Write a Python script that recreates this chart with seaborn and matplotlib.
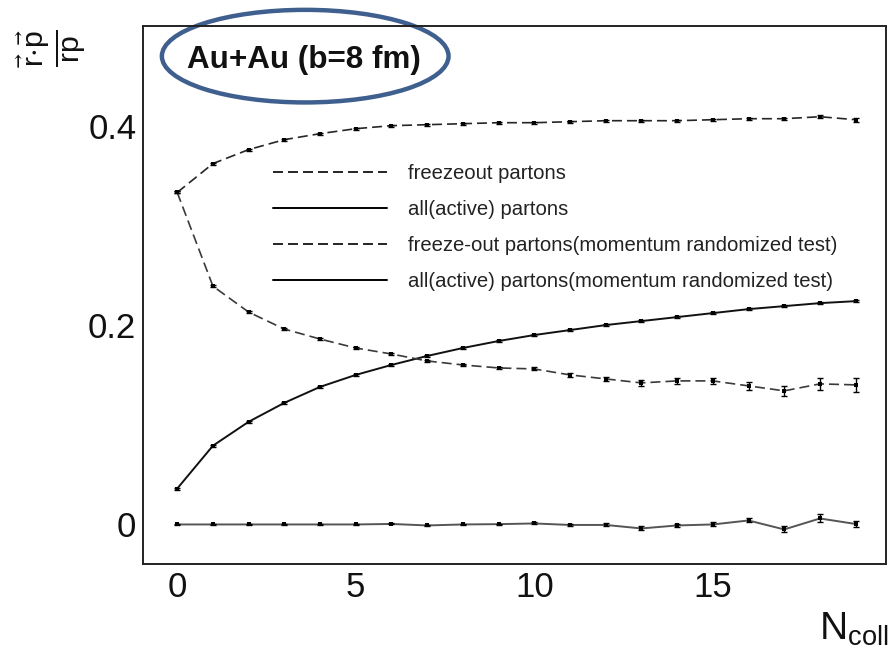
import matplotlib
matplotlib.use("Agg")
import matplotlib.pyplot as plt
import seaborn as sns
import pandas as pd
from matplotlib.lines import Line2D
from matplotlib.patches import Ellipse
from matplotlib.ticker import MultipleLocator, FixedLocator

# Number of binary collisions suffered by a parton
n_coll = list(range(20))

# <r.p/(rp)> for freeze-out partons
freezeout = [0.333, 0.362, 0.376, 0.386, 0.392, 0.397, 0.400, 0.401, 0.402, 0.403,
             0.403, 0.404, 0.405, 0.405, 0.405, 0.406, 0.407, 0.407, 0.409, 0.406]
freezeout_err = [0.001] * 18 + [0.0015, 0.002]

# <r.p/(rp)> for all active partons
active = [0.036, 0.079, 0.103, 0.122, 0.138, 0.150, 0.160, 0.169, 0.177, 0.184,
          0.190, 0.195, 0.200, 0.204, 0.208, 0.212, 0.216, 0.219, 0.222, 0.224]
active_err = [0.001] * 20

# Same quantities with randomized momentum directions
freezeout_rand = [0.333, 0.239, 0.213, 0.196, 0.186, 0.177, 0.171, 0.164, 0.160, 0.157,
                  0.156, 0.150, 0.146, 0.142, 0.144, 0.144, 0.139, 0.134, 0.141, 0.140]
freezeout_rand_err = [0.001, 0.001, 0.001, 0.001, 0.001, 0.001, 0.001, 0.001, 0.001, 0.001,
                      0.0015, 0.002, 0.002, 0.003, 0.003, 0.003, 0.004, 0.005, 0.006, 0.007]

active_rand = [0.0, 0.0, 0.0, 0.0, 0.0, 0.0, 0.0005, -0.001, 0.0, 0.0003,
               0.001, -0.0005, -0.0005, -0.004, -0.001, 0.0, 0.004, -0.005, 0.006, 0.0005]
active_rand_err = [0.0005] * 10 + [0.001, 0.001, 0.0015, 0.002, 0.0015, 0.002, 0.002, 0.003, 0.004, 0.003]

legend_labels = ["freezeout partons",
                 "all(active) partons",
                 "freeze-out partons(momentum randomized test)",
                 "all(active) partons(momentum randomized test)"]

x_ticks = [0, 5, 10, 15]
y_ticks = [0, 0.2, 0.4]
y_tick_labels = ["0", "0.2", "0.4"]

sns.set_theme(style="white")
plt.rcParams["font.family"] = ["Liberation Sans", "DejaVu Sans"]
plt.rcParams["mathtext.fontset"] = "custom"
plt.rcParams["mathtext.rm"] = "Liberation Sans"
plt.rcParams["mathtext.it"] = "Liberation Sans:italic"
plt.rcParams["mathtext.bf"] = "Liberation Sans:bold"
plt.rcParams["mathtext.fallback"] = "stixsans"

fig = plt.figure(figsize=(8.89, 6.5), dpi=100)
ax = fig.add_axes([0.1612, 0.1318, 0.8354, 0.8282])

dash = (0, (6, 3))
series = [
    (freezeout, freezeout_err, "#262626", dash, 1.2),
    (active, active_err, "#111111", "-", 1.4),
    (freezeout_rand, freezeout_rand_err, "#3a3a3a", dash, 1.2),
    (active_rand, active_rand_err, "#555555", "-", 1.4),
]

for (vals, errs, col, ls, lw), lab in zip(series, legend_labels):
    df = pd.DataFrame({"n_coll": n_coll, "value": vals})
    sns.lineplot(data=df, x="n_coll", y="value", ax=ax, color=col, linestyle=ls,
                 linewidth=lw, marker="s", markersize=3.2, markeredgewidth=0,
                 markerfacecolor="black", estimator=None, errorbar=None,
                 sort=False, legend=False)
    ax.errorbar(n_coll, vals, yerr=errs, fmt="none", ecolor="black",
                elinewidth=1.0, capsize=2.5, capthick=1.0)

ax.set_xlim(-0.95, 19.85)
ax.set_ylim(-0.04, 0.50)

ax.xaxis.set_major_locator(FixedLocator(x_ticks))
ax.xaxis.set_minor_locator(MultipleLocator(1))
ax.yaxis.set_major_locator(FixedLocator(y_ticks))
ax.set_yticklabels(y_tick_labels)
ax.yaxis.set_minor_locator(MultipleLocator(0.04))

ax.tick_params(axis="both", which="both", direction="in", colors="#111111",
               labelcolor="#111111", labelsize=25, top=False, right=False)
ax.tick_params(axis="x", which="major", length=12.5, width=1.0, pad=5)
ax.tick_params(axis="x", which="minor", length=3.2, width=1.0)
ax.tick_params(axis="y", which="major", length=17, width=1.0, pad=5)
ax.tick_params(axis="y", which="minor", length=5, width=1.0)
for s in ax.spines.values():
    s.set_color("#222222")
    s.set_linewidth(1.4)

ax.set_xlabel(r"$\mathregular{N_{coll}}$", fontsize=28, color="#111111")
ax.xaxis.set_label_coords(1.004, -0.086)
ax.xaxis.label.set_horizontalalignment("right")
ax.xaxis.label.set_verticalalignment("top")

ax.set_ylabel(r"$\frac{\vec{\mathrm{r}}{\cdot}\vec{\mathrm{p}}}{\mathrm{rp}}$",
              fontsize=31, color="#111111", rotation=90)
ax.yaxis.set_label_coords(-0.172, 0.996)
ax.yaxis.label.set_verticalalignment("top")
ax.yaxis.label.set_horizontalalignment("right")

handles = [Line2D([], [], color="black", linestyle=dash, linewidth=1.2),
           Line2D([], [], color="black", linestyle="-", linewidth=1.4),
           Line2D([], [], color="black", linestyle=dash, linewidth=1.2),
           Line2D([], [], color="black", linestyle="-", linewidth=1.4)]
leg = ax.legend(handles, legend_labels, loc="upper left", bbox_to_anchor=(0.175, 0.744),
                frameon=False, fontsize=14.6, handlelength=5.6, handletextpad=1.05,
                labelspacing=0.84, borderpad=0, borderaxespad=0)
for t in leg.get_texts():
    t.set_color("#222222")

ax.text(0.059, 0.937, "Au+Au (b=8 fm)", transform=ax.transAxes, fontsize=22.6,
        fontweight="bold", color="#111111", ha="left", va="center")
ax.add_patch(Ellipse((0.218, 0.944), 0.386, 0.172, transform=ax.transAxes,
                     fill=False, edgecolor="#3f5f8e", linewidth=3.2, clip_on=False))

fig.savefig("out.png", dpi=100)
